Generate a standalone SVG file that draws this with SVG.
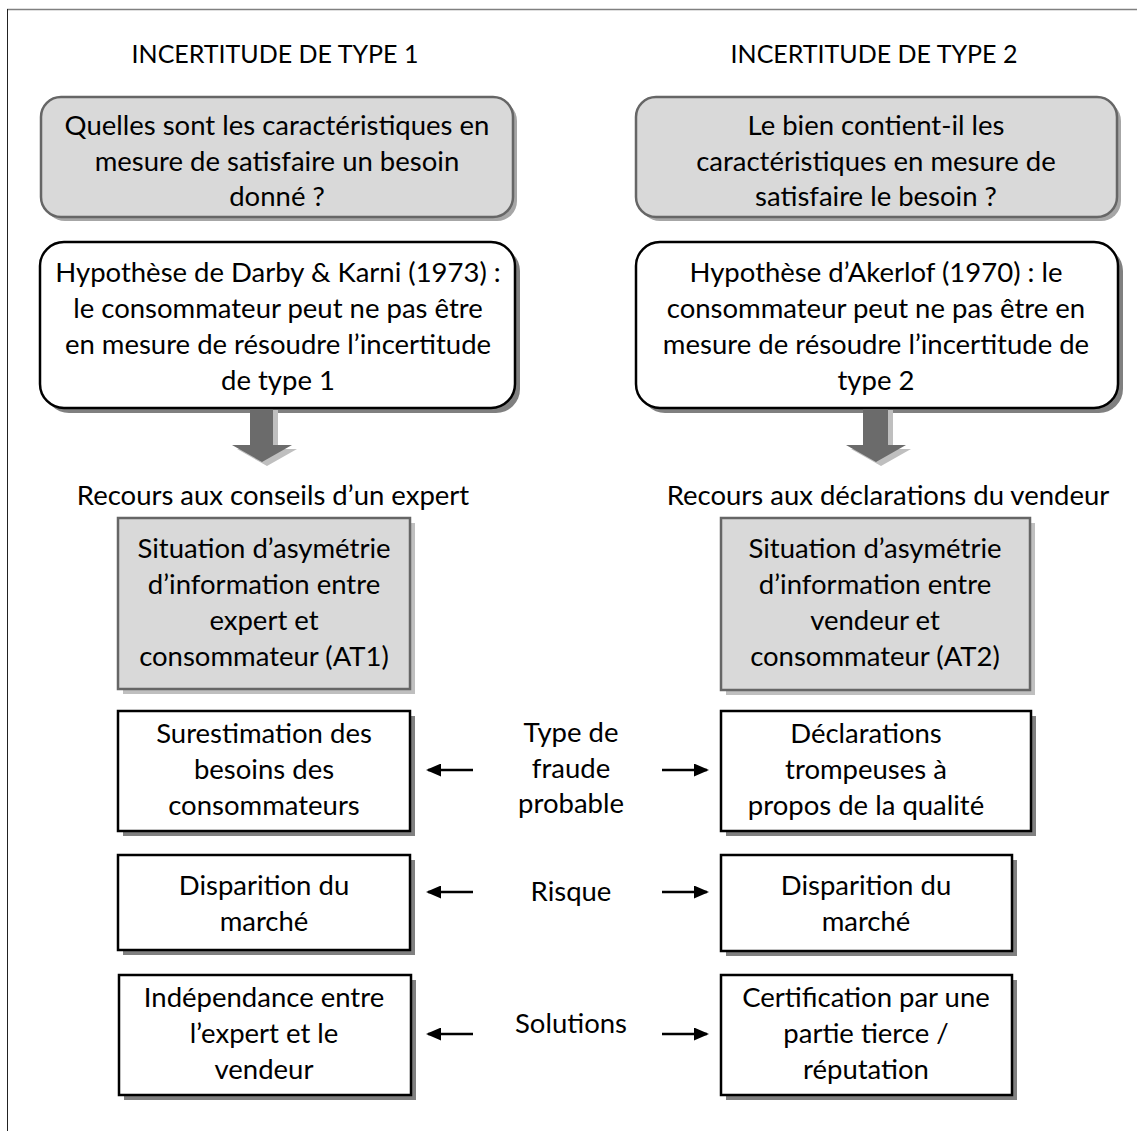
<svg xmlns="http://www.w3.org/2000/svg" width="1137" height="1131" viewBox="0 0 1137 1131">
<style>
text{font-family:Lato,"Liberation Sans",sans-serif;font-size:27.5px;fill:#000;text-anchor:middle}
.hd{font-size:25px}
.gr{fill:#d9d9d9;stroke:#666;stroke-width:2.5}
.wh{fill:#fff;stroke:#000;stroke-width:2.5}
.sh1{fill:#a6a6a6}
.sh2{fill:#808080}
.sh3{fill:#bfbfbf}
.conn{stroke:#000;stroke-width:2.5;fill:none}
</style>
<defs>
<marker id="ah" viewBox="0 0 15 13" refX="13" refY="6.5" markerWidth="15" markerHeight="13" markerUnits="userSpaceOnUse" orient="auto">
<path d="M0,0 L15,6.5 L0,13 Z" fill="#000"/>
</marker>
</defs>
<rect width="1137" height="1131" fill="#fff"/>
<line x1="7" y1="9.5" x2="1137" y2="9.5" stroke="#808080" stroke-width="1.5"/>
<line x1="7.5" y1="9" x2="7.5" y2="1131" stroke="#222" stroke-width="1"/>

<g id="h1"><text class="hd" x="275" y="63">INCERTITUDE DE TYPE 1</text></g>
<g id="h2"><text class="hd" x="874" y="63">INCERTITUDE DE TYPE 2</text></g>

<g id="q1">
<rect class="sh1" x="45" y="101" width="472" height="120" rx="20"/>
<rect class="gr" x="41" y="97" width="472" height="120" rx="20"/>
<text x="277" y="135">Quelles sont les caractéristiques en</text>
<text x="277" y="171">mesure de satisfaire un besoin</text>
<text x="277" y="206">donné ?</text>
</g>
<g id="q2">
<rect class="sh1" x="640" y="101" width="481" height="120" rx="20"/>
<rect class="gr" x="636" y="97" width="481" height="120" rx="20"/>
<text x="876" y="135">Le bien contient-il les</text>
<text x="876" y="171">caractéristiques en mesure de</text>
<text x="876" y="206">satisfaire le besoin ?</text>
</g>

<g id="hyp1">
<rect class="sh2" x="45" y="247" width="475" height="166" rx="24"/>
<rect class="wh" x="40" y="242" width="475" height="166" rx="24"/>
<text x="278" y="282">Hypothèse de Darby &amp; Karni (1973) :</text>
<text x="278" y="318">le consommateur peut ne pas être</text>
<text x="278" y="354">en mesure de résoudre l’incertitude</text>
<text x="278" y="390">de type 1</text>
</g>
<g id="hyp2">
<rect class="sh2" x="641" y="247" width="482" height="166" rx="24"/>
<rect class="wh" x="636" y="242" width="482" height="166" rx="24"/>
<text x="876" y="282">Hypothèse d’Akerlof (1970) : le</text>
<text x="876" y="318">consommateur peut ne pas être en</text>
<text x="876" y="354">mesure de résoudre l’incertitude de</text>
<text x="876" y="390">type 2</text>
</g>

<g id="down1">
<path d="M255,410 H278 V449 H297 L267,466 L237,449 H255 Z" fill="#bfbfbf"/>
<path d="M250,409 H273 V445 H292 L262,462 L232,445 H250 Z" fill="#6b6b6b"/>
</g>
<g id="down2">
<path d="M868,410 H893 V449 H911 L881,466 L851,449 H868 Z" fill="#bfbfbf"/>
<path d="M863,409 H888 V445 H906 L876,462 L846,445 H863 Z" fill="#6b6b6b"/>
</g>

<g id="rec1"><text x="273" y="505">Recours aux conseils d’un expert</text></g>
<g id="rec2"><text x="888" y="505">Recours aux déclarations du vendeur</text></g>

<g id="at1">
<rect class="sh3" x="123" y="523" width="292" height="171"/>
<rect class="gr" x="118" y="518" width="292" height="171"/>
<text x="264" y="558">Situation d’asymétrie</text>
<text x="264" y="594">d’information entre</text>
<text x="264" y="630">expert et</text>
<text x="264" y="666">consommateur (AT1)</text>
</g>
<g id="at2">
<rect class="sh3" x="726" y="523" width="309" height="172"/>
<rect class="gr" x="721" y="518" width="309" height="172"/>
<text x="875" y="558">Situation d’asymétrie</text>
<text x="875" y="594">d’information entre</text>
<text x="875" y="630">vendeur et</text>
<text x="875" y="666">consommateur (AT2)</text>
</g>

<g id="fraud1">
<rect class="sh2" x="123" y="716" width="292" height="120"/>
<rect class="wh" x="118" y="711" width="292" height="120"/>
<text x="264" y="743">Surestimation des</text>
<text x="264" y="779">besoins des</text>
<text x="264" y="815">consommateurs</text>
</g>
<g id="fraud2">
<rect class="sh2" x="726" y="716" width="310" height="120"/>
<rect class="wh" x="721" y="711" width="310" height="120"/>
<text x="866" y="743">Déclarations</text>
<text x="866" y="779">trompeuses à</text>
<text x="866" y="815">propos de la qualité</text>
</g>
<g id="lab-fraude">
<text x="571" y="742">Type de</text>
<text x="571" y="778">fraude</text>
<text x="571" y="813">probable</text>
</g>

<g id="risk1">
<rect class="sh2" x="123" y="860" width="292" height="95"/>
<rect class="wh" x="118" y="855" width="292" height="95"/>
<text x="264" y="895">Disparition du</text>
<text x="264" y="931">marché</text>
</g>
<g id="risk2">
<rect class="sh2" x="726" y="860" width="291" height="96"/>
<rect class="wh" x="721" y="855" width="291" height="96"/>
<text x="866" y="895">Disparition du</text>
<text x="866" y="931">marché</text>
</g>
<g id="lab-risque"><text x="571" y="901">Risque</text></g>

<g id="sol1">
<rect class="sh2" x="124" y="980" width="292" height="120"/>
<rect class="wh" x="119" y="975" width="292" height="120"/>
<text x="264" y="1007">Indépendance entre</text>
<text x="264" y="1043">l’expert et le</text>
<text x="264" y="1079">vendeur</text>
</g>
<g id="sol2">
<rect class="sh2" x="726" y="980" width="291" height="120"/>
<rect class="wh" x="721" y="975" width="291" height="120"/>
<text x="866" y="1007">Certification par une</text>
<text x="866" y="1043">partie tierce /</text>
<text x="866" y="1079">réputation</text>
</g>
<g id="lab-sol"><text x="571" y="1033">Solutions</text></g>

<g id="connectors">
<line class="conn" x1="473" y1="770" x2="428" y2="770" marker-end="url(#ah)"/>
<line class="conn" x1="662" y1="770" x2="707" y2="770" marker-end="url(#ah)"/>
<line class="conn" x1="473" y1="892" x2="428" y2="892" marker-end="url(#ah)"/>
<line class="conn" x1="662" y1="892" x2="707" y2="892" marker-end="url(#ah)"/>
<line class="conn" x1="473" y1="1034" x2="428" y2="1034" marker-end="url(#ah)"/>
<line class="conn" x1="662" y1="1034" x2="707" y2="1034" marker-end="url(#ah)"/>
</g>
</svg>
